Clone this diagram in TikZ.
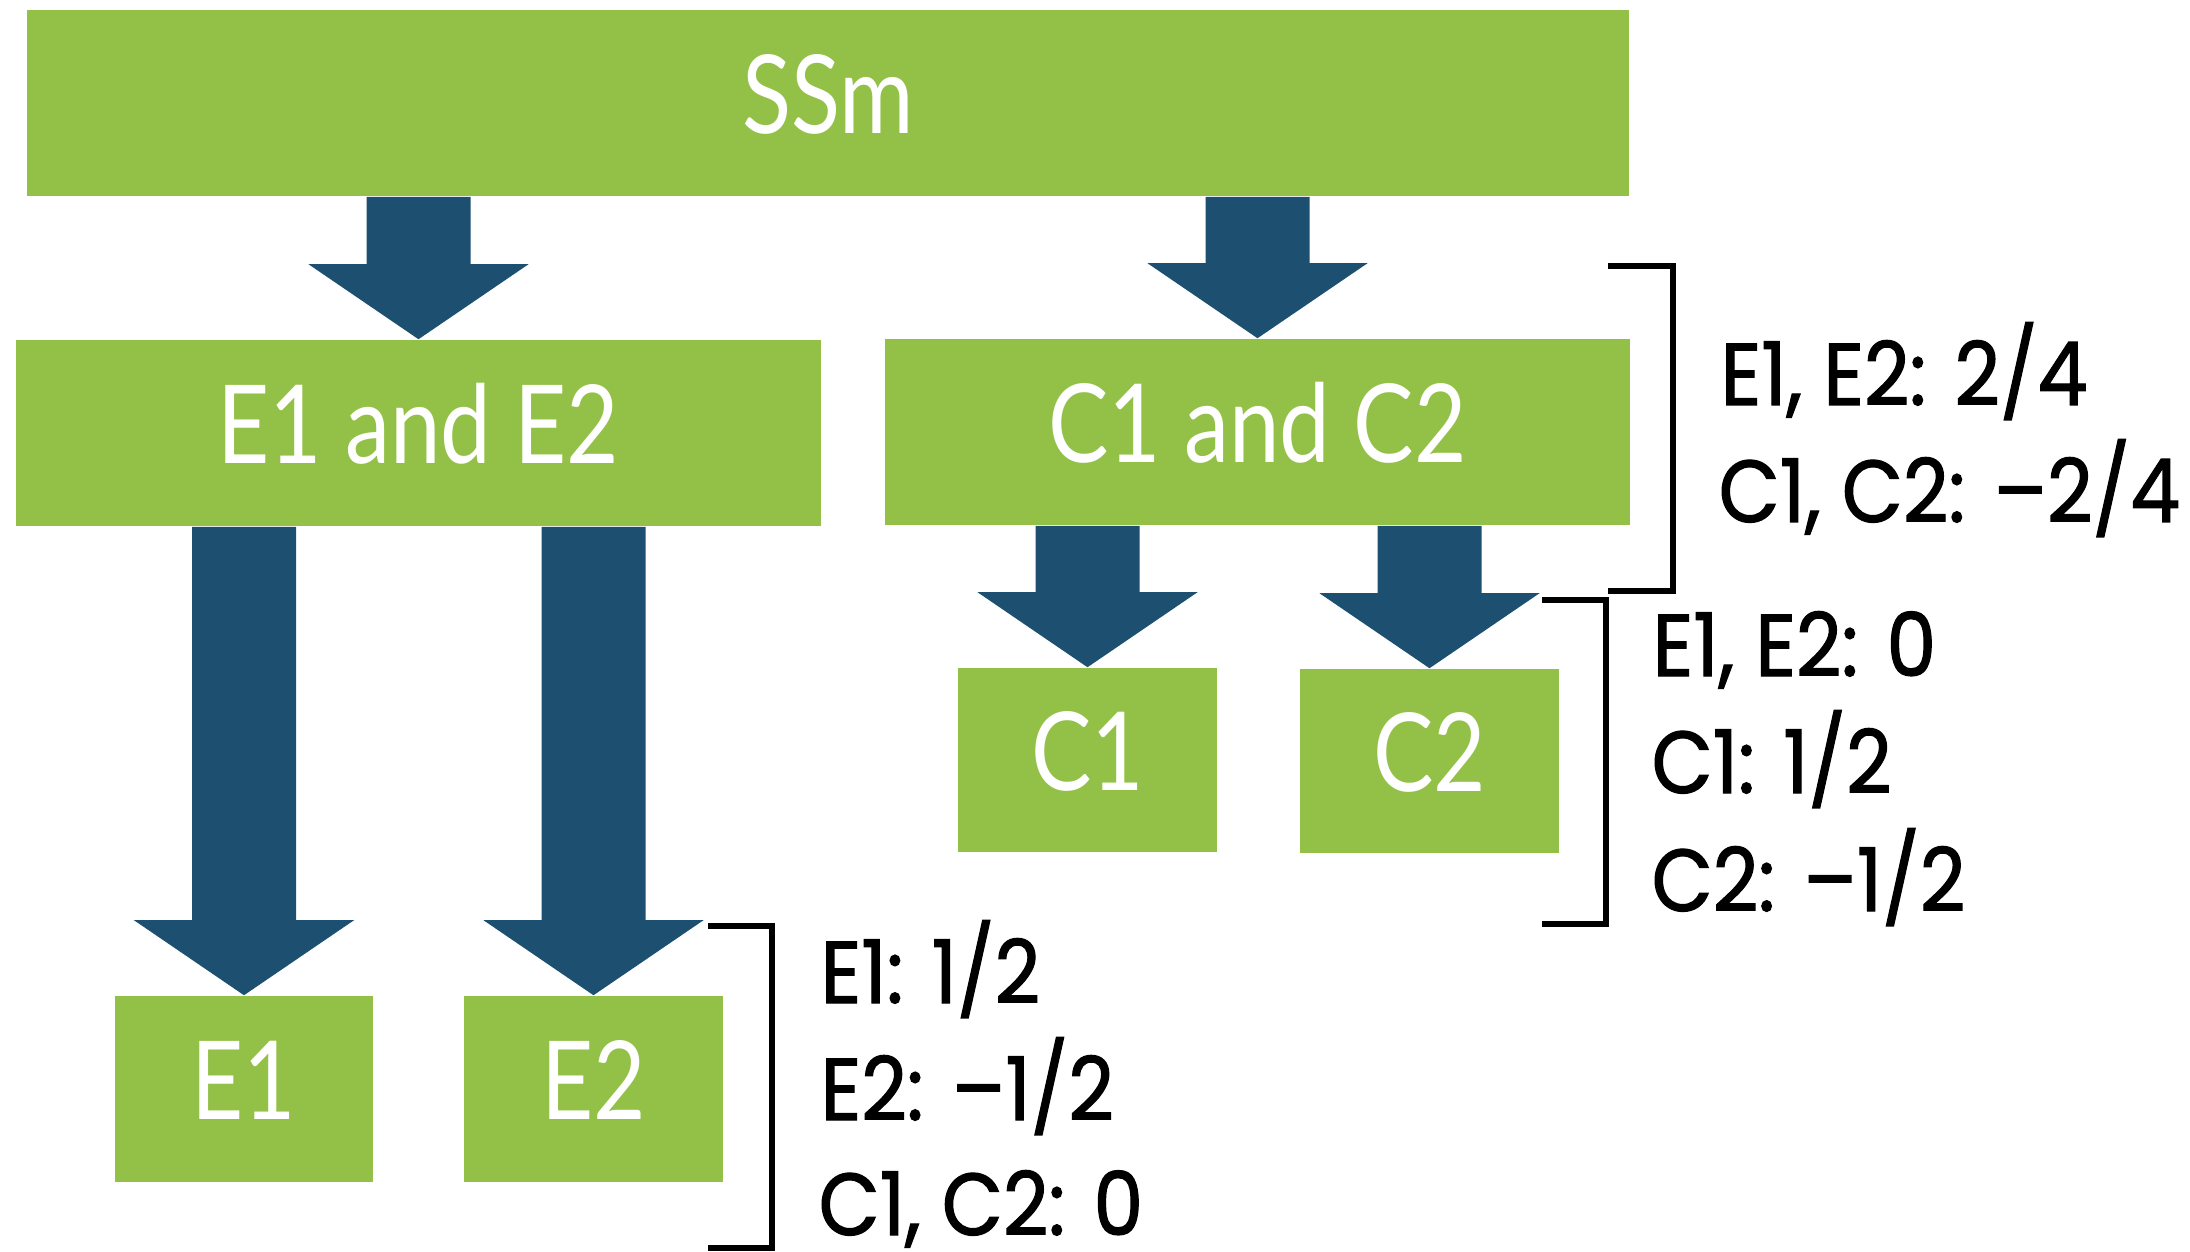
\documentclass[tikz,border=0pt]{standalone}
\usepackage{fontspec}
\setmainfont{Lato}
\newfontfamily\boxfont[FakeStretch=0.83]{Lato}
\newfontfamily\notefont[FakeBold=1.4,FakeStretch=0.9]{Poppins}
\usetikzlibrary{calc}
\definecolor{leaf}{RGB}{147,193,72}
\definecolor{ink}{RGB}{29,79,112}
\tikzset{
  greenbox/.style={fill=leaf, text=white, inner sep=0pt,
    font=\boxfont\fontsize{31}{31}\selectfont,
    text height=0.8cm, text depth=0.2cm},
  note/.style={anchor=base west, inner sep=0pt,
    font=\notefont\fontsize{25}{25}\selectfont},
  brace/.style={line width=1.5pt, line join=miter},
}
% block arrow from a start point (top of shaft) down to its tip
\newcommand{\blockarrow}[2]{%
  \fill[ink] ($(#1)+(-52,0)$) -- ($(#1)+(52,0)$) -- ($(#2)+(52,-75)$)
    -- ($(#2)+(110,-75)$) -- (#2) -- ($(#2)+(-110,-75)$)
    -- ($(#2)+(-52,-75)$) -- cycle;}
\begin{document}
\begin{tikzpicture}[x=0.01cm,y=-0.01cm]
\useasboundingbox (0,0) rectangle (2190,1252);

% boxes
\node[greenbox, minimum width=16.02cm, minimum height=1.86cm] (ssm) at (828,103) {SSm};
\node[greenbox, minimum width=8.05cm, minimum height=1.86cm] (e12) at (418.5,433) {E1 and E2};
\node[greenbox, minimum width=7.45cm, minimum height=1.86cm] (c12) at (1257.5,432) {C1 and C2};
\node[greenbox, minimum width=2.59cm, minimum height=1.84cm] (c1) at (1087.5,760) {C1};
\node[greenbox, minimum width=2.59cm, minimum height=1.84cm] (c2) at (1429.5,761) {C2};
\node[greenbox, minimum width=2.58cm, minimum height=1.86cm] (e1) at (244,1089) {E1};
\node[greenbox, minimum width=2.59cm, minimum height=1.86cm] (e2) at (593.5,1089) {E2};

% arrow starts on the lower edges of the parent boxes
\coordinate (s12e) at (e12.north |- ssm.south);
\coordinate (s12c) at (c12.north |- ssm.south);
\coordinate (sc1) at (c1.north |- c12.south);
\coordinate (sc2) at (c2.north |- c12.south);
\coordinate (se1) at (e1.north |- e12.south);
\coordinate (se2) at (e2.north |- e12.south);

\blockarrow{s12e}{e12.north}
\blockarrow{s12c}{c12.north}
\blockarrow{sc1}{c1.north}
\blockarrow{sc2}{c2.north}
\blockarrow{se1}{e1.north}
\blockarrow{se2}{e2.north}

% brackets
\draw[brace] (1608,266) -| (1673,591) -- (1608,591);
\draw[brace] (1542,600) -| (1606,924) -- (1542,924);
\draw[brace] (708,926) -| (772,1248) -- (708,1248);

% weights
\node[note] (w1) at (1720,405) {E1, E2: 2/4};
\node[note] (w2) at (1718,522) {C1, C2: \textendash2/4};
\node[note] (w3) at (1652,676) {E1, E2: 0};
\node[note] (w4) at (1651,793) {C1: 1/2};
\node[note] (w5) at (1651,911) {C2: \textendash1/2};
\node[note] (w6) at (820,1003) {E1: 1/2};
\node[note] (w7) at (820,1120) {E2: \textendash1/2};
\node[note] (w8) at (818,1235) {C1, C2: 0};
\end{tikzpicture}
\end{document}
